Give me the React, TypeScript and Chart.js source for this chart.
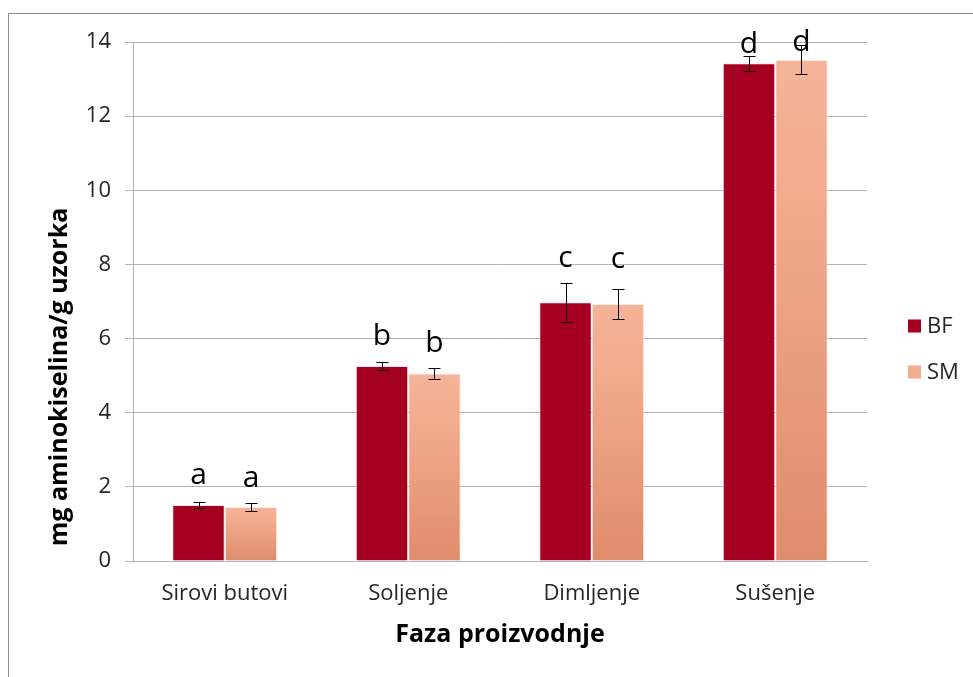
import React, { useEffect, useRef } from "react";
import { Chart, registerables } from "chart.js";

Chart.register(...registerables);

const categories = ["Sirovi butovi", "Soljenje", "Dimljenje", "Sušenje"];
const seriesNames = ["BF", "SM"];
const bfValues = [1.51, 5.26, 6.98, 13.43];
const smValues = [1.46, 5.06, 6.93, 13.52];
const bfErrors = [0.09, 0.12, 0.53, 0.2];
const smErrors = [0.11, 0.15, 0.41, 0.39];
const bfLetters = ["a", "b", "c", "d"];
const smLetters = ["a", "b", "c", "d"];
const bfLetterY = [2.08, 5.83, 7.94, 13.7];
const smLetterY = [1.99, 5.63, 7.9, 13.76];
const yMin = 0;
const yMax = 14;
const yStep = 2;
const yTitle = "mg aminokiselina/g uzorka";
const xTitle = "Faza proizvodnje";

const FONT = "'Open Sans', 'DejaVu Sans', sans-serif";
const TEXT = "#262626";
const GRID = "#B3B3B3";
const BF_COLOR = "#A50021";

const errors = [bfErrors, smErrors];
const values = [bfValues, smValues];
const letters = [bfLetters, smLetters];
const letterY = [bfLetterY, smLetterY];

const overlay = {
  id: "overlay",
  beforeDraw(chart: any) {
    const ctx = chart.ctx;
    ctx.save();
    ctx.fillStyle = "#ffffff";
    ctx.fillRect(0, 0, chart.width, chart.height);
    ctx.strokeStyle = "#8C8C8C";
    ctx.lineWidth = 1;
    ctx.strokeRect(8.5, 13.5, 3000, 3000);
    ctx.restore();
  },
  afterDatasetsDraw(chart: any) {
    const ctx = chart.ctx;
    const ys = chart.scales.y;
    ctx.save();
    for (let d = 0; d < 2; d++) {
      const meta = chart.getDatasetMeta(d);
      meta.data.forEach((bar: any, i: number) => {
        const x = Math.round(bar.x) + 0.5;
        const v = values[d][i];
        const e = errors[d][i];
        const yt = Math.round(ys.getPixelForValue(v + e)) + 0.5;
        const yb = Math.round(ys.getPixelForValue(v - e)) + 0.5;
        ctx.strokeStyle = "#000000";
        ctx.lineWidth = 1;
        ctx.beginPath();
        ctx.moveTo(x, yt);
        ctx.lineTo(x, yb);
        ctx.moveTo(x - 6, yt);
        ctx.lineTo(x + 6, yt);
        ctx.moveTo(x - 6, yb);
        ctx.lineTo(x + 6, yb);
        ctx.stroke();
      });
    }
    for (let d = 0; d < 2; d++) {
      const meta = chart.getDatasetMeta(d);
      meta.data.forEach((bar: any, i: number) => {
        ctx.fillStyle = "#000000";
        ctx.font = `30px ${FONT}`;
        ctx.textAlign = "center";
        ctx.textBaseline = "alphabetic";
        ctx.fillText(letters[d][i], bar.x, ys.getPixelForValue(letterY[d][i]));
      });
    }
    ctx.restore();
  },
  afterDraw(chart: any) {
    const ctx = chart.ctx;
    const area = chart.chartArea;
    ctx.save();
    // legend
    const colors = [BF_COLOR, "#F2AC8F"];
    const ly = [326, 372];
    for (let d = 0; d < 2; d++) {
      ctx.fillStyle = colors[d];
      ctx.fillRect(908, ly[d] - 6.5, 13, 13);
      ctx.fillStyle = TEXT;
      ctx.font = `22px ${FONT}`;
      ctx.textAlign = "left";
      ctx.textBaseline = "middle";
      ctx.fillText(seriesNames[d], 927, ly[d] + 1);
    }
    // y title
    ctx.fillStyle = "#000000";
    ctx.font = `bold 25px ${FONT}`;
    ctx.textAlign = "center";
    ctx.textBaseline = "middle";
    ctx.translate(60, 377);
    ctx.rotate(-Math.PI / 2);
    ctx.fillText(yTitle, 0, 0);
    ctx.setTransform(1, 0, 0, 1, 0, 0);
    // x title
    ctx.font = `bold 25px ${FONT}`;
    ctx.textAlign = "center";
    ctx.textBaseline = "middle";
    ctx.fillText(xTitle, (area.left + area.right) / 2, 635);
    ctx.restore();
  },
};

export default function App() {
  const ref = useRef<HTMLCanvasElement | null>(null);
  useEffect(() => {
    if (!ref.current) return;
    Chart.defaults.font.family = FONT;
    const chart = new Chart(ref.current, {
      type: "bar",
      data: {
        labels: categories,
        datasets: [
          {
            label: seriesNames[0],
            data: bfValues,
            backgroundColor: BF_COLOR,
            borderColor: "rgba(255,220,225,0.7)",
            borderWidth: 1,
            categoryPercentage: 0.572,
            barPercentage: 1,
          },
          {
            label: seriesNames[1],
            data: smValues,
            backgroundColor: (c: any) => {
              const ch = c.chart;
              if (!ch.chartArea || c.dataIndex === undefined) return "#F2AC8F";
              const ys = ch.scales.y;
              const top = ys.getPixelForValue(smValues[c.dataIndex]);
              const bot = ys.getPixelForValue(0);
              const g = ch.ctx.createLinearGradient(0, top, 0, bot);
              g.addColorStop(0, "#F5B398");
              g.addColorStop(0.3, "#F1AA8C");
              g.addColorStop(1, "#DF8C6C");
              return g;
            },
            borderColor: "rgba(255,235,225,0.8)",
            borderWidth: 1,
            categoryPercentage: 0.572,
            barPercentage: 1,
          },
        ],
      },
      options: {
        animation: false,
        responsive: false,
        maintainAspectRatio: false,
        layout: { padding: { left: 0, top: 42, right: 106, bottom: 0 } },
        plugins: {
          legend: { display: false },
          tooltip: { enabled: false },
        },
        scales: {
          x: {
            grid: { display: false, drawTicks: false },
            border: { color: GRID, width: 1 },
            ticks: { color: TEXT, padding: 20, font: { size: 22 } },
            afterFit: (s: any) => {
              s.height = 116;
            },
          },
          y: {
            min: yMin,
            max: yMax,
            ticks: { stepSize: yStep, color: TEXT, padding: 14, font: { size: 22 } },
            grid: { color: GRID, tickLength: 8, tickColor: GRID },
            border: { color: GRID, width: 1 },
            afterFit: (s: any) => {
              s.width = 133;
            },
          },
        },
      },
      plugins: [overlay],
    } as any);
    return () => chart.destroy();
  }, []);
  return (
    <div style={{ position: "fixed", left: 0, top: 0, width: 973, height: 677, overflow: "hidden" }}>
      <canvas ref={ref} width={973} height={677} style={{ width: 973, height: 677, display: "block" }} />
    </div>
  );
}
